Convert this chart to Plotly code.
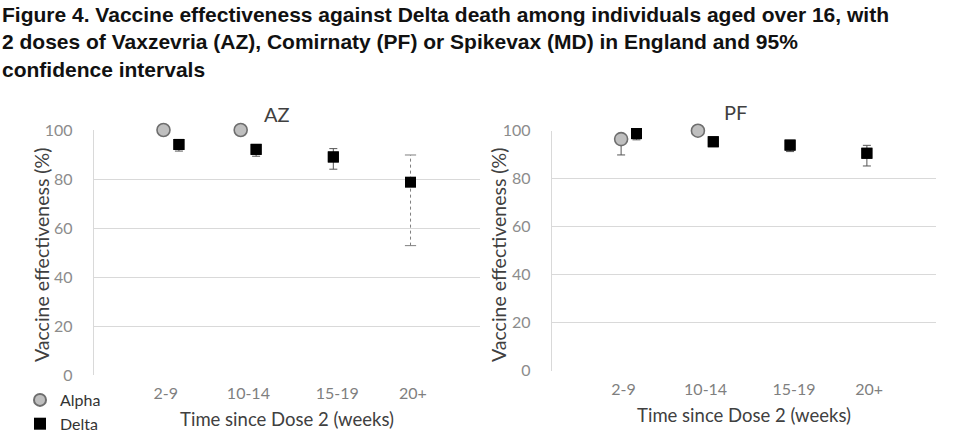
import plotly.graph_objects as go

# ---- data ----
periods = ["2-9", "10-14", "15-19", "20+"]
period_idx = [1, 2, 3, 4]

az_alpha_ve = [100, 100, None, None]
az_alpha_lo = [100, 100, None, None]
az_alpha_hi = [100, 100, None, None]
az_delta_ve = [94.1, 92.1, 89.0, 78.7]
az_delta_lo = [91.4, 89.3, 84.0, 52.8]
az_delta_hi = [95.8, 93.6, 92.4, 89.8]

pf_alpha_ve = [96.5, 100, None, None]
pf_alpha_lo = [89.9, 100, None, None]
pf_alpha_hi = [98.6, 100, None, None]
pf_delta_ve = [98.8, 95.4, 94.0, 90.6]
pf_delta_lo = [96.2, 94.0, 91.3, 85.3]
pf_delta_hi = [99.5, 96.6, 95.8, 93.9]

yticks = [0, 20, 40, 60, 80, 100]

# ---- styling ----
OFF = 0.1
label_pos = [0.93, 2.0, 3.15, 4.13]
FONT = "Lato, Open Sans, sans-serif"
TICK_FONT = dict(family=FONT, size=16, color="#8c8c8c")
XTICK_FONT = dict(family=FONT, size=16, color="#7f7f7f")
TITLE_FONT = dict(family=FONT, size=18.5, color="#404040")
ALPHA_FILL = "#bfbfbf"
ALPHA_LINE = "#6e6e6e"

fig = go.Figure()


def errs(v, lo, hi):
    plus = [None if a is None else h - a for a, h in zip(v, hi)]
    minus = [None if a is None else a - l for a, l in zip(v, lo)]
    return plus, minus


def add_panel(xa, ya, a_ve, a_lo, a_hi, d_ve, d_lo, d_hi, showlegend, dotted_last=False):
    ax = [i - OFF for i in period_idx]
    dx = [i + OFF for i in period_idx]
    ap, am = errs(a_ve, a_lo, a_hi)
    n = len(d_ve) - 1 if dotted_last else len(d_ve)
    dp, dm = errs(d_ve[:n], d_lo[:n], d_hi[:n])
    if dotted_last:
        fig.add_trace(go.Scatter(
            x=[dx[-1], dx[-1]], y=[d_lo[-1], d_hi[-1]], mode="lines+markers",
            xaxis=xa, yaxis=ya, showlegend=False, hoverinfo="skip", cliponaxis=False,
            line=dict(color="#7f7f7f", width=1, dash="dot"),
            marker=dict(symbol="line-ew", size=8, line=dict(color="#7f7f7f", width=1)),
        ))
    fig.add_trace(go.Scatter(
        x=ax, y=a_ve, mode="markers", name="Alpha", xaxis=xa, yaxis=ya,
        showlegend=showlegend, legendgroup="a", cliponaxis=False,
        marker=dict(symbol="circle", size=13, color=ALPHA_FILL,
                    line=dict(color=ALPHA_LINE, width=1.6)),
        error_y=dict(type="data", array=ap, arrayminus=am, color="#555555",
                     thickness=1, width=4),
    ))
    fig.add_trace(go.Scatter(
        x=dx[:n], y=d_ve[:n], mode="markers", xaxis=xa, yaxis=ya,
        showlegend=False, hoverinfo="skip", cliponaxis=False,
        marker=dict(symbol="square", size=11, color="black"),
        error_y=dict(type="data", array=dp, arrayminus=dm, color="#555555",
                     thickness=1, width=4),
    ))
    fig.add_trace(go.Scatter(
        x=dx, y=d_ve, mode="markers", name="Delta", xaxis=xa, yaxis=ya,
        showlegend=showlegend, legendgroup="d", cliponaxis=False,
        marker=dict(symbol="square", size=11, color="black"),
    ))


add_panel("x", "y", az_alpha_ve, az_alpha_lo, az_alpha_hi,
          az_delta_ve, az_delta_lo, az_delta_hi, True, dotted_last=True)
add_panel("x2", "y2", pf_alpha_ve, pf_alpha_lo, pf_alpha_hi,
          pf_delta_ve, pf_delta_lo, pf_delta_hi, False)

W, H = 972, 437


def xdom(a, b):
    return [a / W, b / W]


def ydom(top, bot):
    return [1 - bot / H, 1 - top / H]


xcommon = dict(range=[0, 5], tickvals=label_pos, ticktext=periods, tickfont=XTICK_FONT,
               showgrid=False, zeroline=False, showline=False, ticks="",
               ticklabelstandoff=7, automargin=False,
               title=dict(text="Time since Dose 2 (weeks)", font=TITLE_FONT, standoff=12),
               fixedrange=True)
ycommon = dict(range=[0, 100], tickvals=yticks, tickfont=TICK_FONT,
               showgrid=True, gridcolor="#d9d9d9", gridwidth=1.3,
               zeroline=False, showline=True, linecolor="#d9d9d9", linewidth=1.3,
               ticks="", ticklabelstandoff=17, automargin=False, fixedrange=True)

YT_FONT = dict(family=FONT, size=19.5, color="#404040")

fig.update_layout(
    width=W, height=H,
    margin=dict(l=0, r=0, t=0, b=0, autoexpand=False),
    paper_bgcolor="white", plot_bgcolor="white",
    xaxis=dict(domain=xdom(94, 480), anchor="y", **xcommon),
    yaxis=dict(domain=ydom(130, 375), anchor="x", **ycommon),
    xaxis2=dict(domain=xdom(552, 936), anchor="y2", **xcommon),
    yaxis2=dict(domain=ydom(130.7, 370.7), anchor="x2", **ycommon),
    showlegend=True,
    legend=dict(x=20 / W, y=1 - 383 / H, xanchor="left", yanchor="top",
                font=dict(family=FONT, size=16, color="#333333"),
                bgcolor="rgba(0,0,0,0)", tracegroupgap=0, itemwidth=30,
                itemsizing="constant"),
    annotations=[
        dict(text="<b>Figure 4. Vaccine effectiveness against Delta death among individuals aged over 16, with"
                  "<br>2 doses of Vaxzevria (AZ), Comirnaty (PF) or Spikevax (MD) in England and 95%"
                  "<br>confidence intervals</b>",
             xref="paper", yref="paper", x=0.0, y=1 - 1 / H, xanchor="left", yanchor="top",
             align="left", showarrow=False,
             font=dict(family="Liberation Sans, Arial, sans-serif", size=21, color="#111111")),
        dict(text="AZ", xref="paper", yref="paper", x=277 / W, y=1 - 114 / H,
             xanchor="center", yanchor="middle", showarrow=False,
             font=dict(family=FONT, size=20, color="#404040")),
        dict(text="PF", xref="paper", yref="paper", x=735 / W, y=1 - 112 / H,
             xanchor="center", yanchor="middle", showarrow=False,
             font=dict(family=FONT, size=20, color="#404040")),
        dict(text="Vaccine effectiveness (%)", xref="paper", yref="paper",
             x=41 / W, y=1 - 255 / H, xanchor="center", yanchor="middle",
             textangle=-90, showarrow=False, font=YT_FONT),
        dict(text="Vaccine effectiveness (%)", xref="paper", yref="paper",
             x=498 / W, y=1 - 255 / H, xanchor="center", yanchor="middle",
             textangle=-90, showarrow=False, font=YT_FONT),
    ],
)

fig.write_html("out.html")
